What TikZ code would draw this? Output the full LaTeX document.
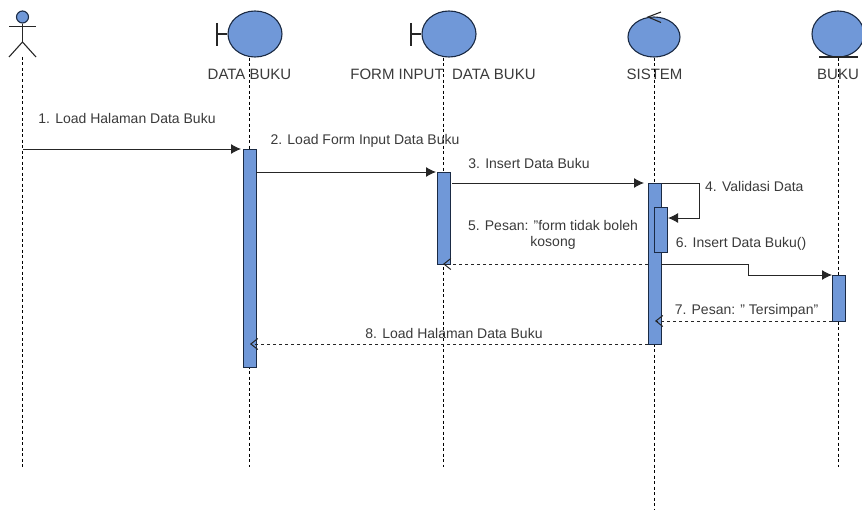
\documentclass[tikz,border=0pt]{standalone}
\usepackage{fontspec}
\setmainfont{Liberation Sans}
\usetikzlibrary{positioning,shapes.geometric,arrows.meta}
\definecolor{umlfill}{HTML}{7098D8}
\definecolor{umlline}{HTML}{1A2A44}
\definecolor{umltext}{HTML}{3A3A3A}

\begin{document}
\begin{tikzpicture}[
  x=1pt, y=-1pt,
  party/.style={draw=umlline, fill=umlfill, ellipse, line width=1.1pt, inner sep=0pt},
  bar/.style={draw=umlline, fill=umlfill, line width=1pt, inner sep=0pt, minimum width=13pt, anchor=north west},
  lbl/.style={font=\fontsize{15}{18}\selectfont, text=umltext, inner sep=0pt, align=center},
  msg/.style={font=\fontsize{14}{16}\selectfont, text=umltext, inner sep=0pt, align=center},
  life/.style={dash pattern=on 3pt off 2.5pt, black, line width=1pt},
  arr/.style={-{Latex[length=10pt,width=10pt]}, line width=1pt, black!85},
  ret/.style={-{Straight Barb[length=7pt,width=11pt]}, dashed, line width=1pt, black!85},
  glyph/.style={line width=1.1pt, black!85}
]
\useasboundingbox (0,0) rectangle (862,511);

% Lifeline ends
\coordinate (end_user) at (22.5,467);
\coordinate (end_data) at (249,467);
\coordinate (end_form) at (443,467);
\coordinate (end_sis) at (654,510);
\coordinate (end_buku) at (838,467);

% Actor
\node[party, minimum width=12pt, minimum height=12pt] (head) at (22.5,17) {};
\coordinate (hip) at (22.5,42);
\coordinate (arm_l) at (9,26.5);
\coordinate (arm_r) at (36,26.5);
\coordinate (foot_l) at (9,57);
\coordinate (foot_r) at (36,57);
\coordinate (user) at (22.5,57);
\draw[glyph] (head) -- (hip);
\draw[glyph] (arm_l) -- (arm_r);
\draw[glyph] (foot_l) -- (hip) -- (foot_r);

% Boundary and entity heads
\node[party, minimum width=54pt, minimum height=46pt] (data) at (255,34) {};
\node[party, minimum width=54pt, minimum height=46pt] (form) at (449,34) {};
\node[party, minimum width=52pt, minimum height=40pt] (sis) at (654,37) {};
\node[party, minimum width=52pt, minimum height=46pt] (buku) at (838,34) {};
\draw[glyph] (217,23) -- (217,46);
\draw[glyph] (217,34) -- (data.west);
\draw[glyph] (411,23) -- (411,46);
\draw[glyph] (411,34) -- (form.west);
\draw[glyph] (661,12) -- (648,17) -- (661,22.5);
\draw[glyph] (819,57) -- (858,57);

% Labels
\node[lbl] (lbl_data) at (249.5,74) {DATA BUKU};
\node[lbl] (lbl_form) at (443,74) {FORM INPUT\ \ DATA BUKU};
\node[lbl] (lbl_sis) at (654.5,74) {SISTEM};
\node[lbl] (lbl_buku) at (838,74) {BUKU};

% Lifelines
\draw[life] (user) -- (end_user);
\draw[life] (data.south -| end_data) -- (end_data);
\draw[life] (form.south -| end_form) -- (end_form);
\draw[life] (sis.south) -- (end_sis);
\draw[life] (buku.south) -- (end_buku);

% Activation bars
\node[bar, minimum height=218pt] (act_data) at (243,149) {};
\node[bar, minimum height=92pt] (act_form) at (437,172) {};
\node[bar, minimum height=161pt] (act_sis) at (648,183) {};
\node[bar, minimum height=45pt] (act_val) at (654,207) {};
\node[bar, minimum height=46pt] (act_buku) at (832,275) {};

% Messages
\coordinate (m1) at (241,149);
\coordinate (m2) at (256,172);
\coordinate (m2b) at (436,172);
\coordinate (m3) at (452,183);
\coordinate (m3b) at (644,183);
\coordinate (m4) at (699,183);
\coordinate (m4b) at (699,218);
\coordinate (m5) at (648,264);
\coordinate (m6) at (661,264);
\coordinate (m6a) at (748,264);
\coordinate (m6b) at (748,275);
\coordinate (m7) at (655,321);
\coordinate (m8) at (250,344);
\draw[arr] (end_user |- m1) -- (m1);
\draw[arr] (m2) -- (m2b);
\draw[arr] (m3) -- (m3b);
\draw[arr] (act_sis.north east) -- (m4) -- (m4b) -- (act_val.east |- m4b);
\draw[ret] (m5) -- (end_form |- m5);
\draw[arr] (m6) -- (m6a) -- (m6b) -- (act_buku.west |- m6b);
\draw[ret] (act_buku.west |- m7) -- (m7);
\draw[ret] (act_sis.west |- m8) -- (m8);

% Message labels
\node[msg] (txt1) at (127,118) {1. Load Halaman Data Buku};
\node[msg] (txt2) at (365,141) {2. Load Form Input Data Buku};
\node[msg] (txt3) at (529,163) {3. Insert Data Buku};
\node[msg, anchor=west] (txt4) at (705,186) {4. Validasi Data};
\node[msg] (txt5) at (553,235) {5. Pesan: "form tidak boleh\\kosong};
\node[msg] (txt6) at (741,244) {6. Insert Data Buku()};
\node[msg] (txt7) at (746.5,311) {7. Pesan: " Tersimpan"};
\node[msg] (txt8) at (454,333) {8. Load Halaman Data Buku};
\end{tikzpicture}
\end{document}
